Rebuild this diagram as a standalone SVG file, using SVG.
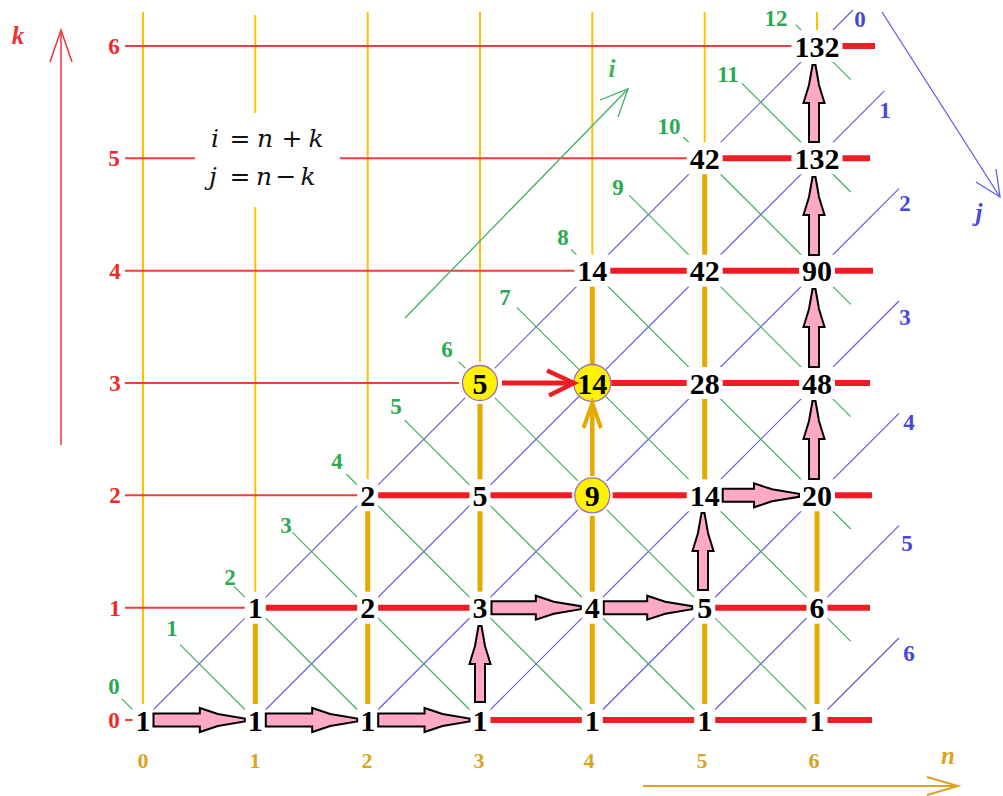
<svg xmlns="http://www.w3.org/2000/svg" width="1003" height="796" viewBox="0 0 1003 796">
<style>
.tc{stroke:#FFC000;stroke-width:2;fill:none}
.tr{stroke:#F03C3C;stroke-width:2;fill:none}
.bl{stroke:#5F5FE0;stroke-width:1.2;fill:none}
.gr{stroke:#40B060;stroke-width:1.2;fill:none}
.kr{stroke:#EE1C24;stroke-width:6;fill:none}
.kg{stroke:#E3AA00;stroke-width:5;fill:none}
.pa{fill:#FFA8C8;stroke:#000;stroke-width:2;stroke-linejoin:miter}
.nb{fill:#fff}
.nt{font-family:"Liberation Serif","Times New Roman",serif;font-weight:bold;font-size:30px;fill:#000;text-anchor:middle}
.lab{font-family:"Liberation Serif","Times New Roman",serif;font-weight:bold;font-size:23px;text-anchor:middle}
.rl{fill:#F02828}
.cl{fill:#D9A520;font-size:22px}
.gl{fill:#2DAA50}
.jl{fill:#4848D8}
.ax{font-family:"Liberation Serif","Times New Roman",serif;font-weight:bold;font-style:italic;font-size:25px;text-anchor:middle}
.fm{font-family:"DejaVu Serif","Liberation Serif",serif;font-size:25px;fill:#111;text-anchor:middle}
.yc{fill:#FFF200;stroke:#A070B0;stroke-width:1.3}
</style>
<rect width="1003" height="796" fill="#fff"/>
<g id="grid">
<line class="tc" x1="143" y1="12" x2="143" y2="720"/>
<line class="tc" x1="255.3" y1="15" x2="255.3" y2="607.7"/>
<line class="tc" x1="367.7" y1="12" x2="367.7" y2="495.3"/>
<line class="tc" x1="480" y1="12" x2="480" y2="383"/>
<line class="tc" x1="592.3" y1="12" x2="592.3" y2="270.7"/>
<line class="tc" x1="704.7" y1="12" x2="704.7" y2="158.3"/>
<line class="tc" x1="817" y1="12" x2="817" y2="46"/>
<line class="tr" x1="125" y1="720" x2="143" y2="720"/>
<line class="tr" x1="125" y1="607.7" x2="255.3" y2="607.7"/>
<line class="tr" x1="125" y1="495.3" x2="367.7" y2="495.3"/>
<line class="tr" x1="125" y1="383" x2="480" y2="383"/>
<line class="tr" x1="125" y1="270.7" x2="592.3" y2="270.7"/>
<line class="tr" x1="125" y1="158.3" x2="704.7" y2="158.3"/>
<line class="tr" x1="125" y1="46" x2="817" y2="46"/>
<line class="bl" x1="143" y1="720" x2="853" y2="10"/>
<line class="bl" x1="255.3" y1="720" x2="884.4" y2="90.9"/>
<line class="bl" x1="367.7" y1="720" x2="899" y2="188.7"/>
<line class="bl" x1="480" y1="720" x2="899" y2="301"/>
<line class="bl" x1="592.3" y1="720" x2="899" y2="413.3"/>
<line class="bl" x1="704.7" y1="720" x2="899" y2="525.7"/>
<line class="bl" x1="817" y1="720" x2="899" y2="638"/>
<line class="gr" x1="121.7" y1="698.7" x2="143" y2="720"/>
<line class="gr" x1="180.1" y1="644.7" x2="255.3" y2="720"/>
<line class="gr" x1="234" y1="586.3" x2="367.7" y2="720"/>
<line class="gr" x1="292.4" y1="532.4" x2="480" y2="720"/>
<line class="gr" x1="346.3" y1="474" x2="592.3" y2="720"/>
<line class="gr" x1="404.7" y1="420.1" x2="704.7" y2="720"/>
<line class="gr" x1="458.7" y1="361.7" x2="817" y2="720"/>
<line class="gr" x1="517" y1="307.7" x2="850.7" y2="641.4"/>
<line class="gr" x1="571" y1="249.3" x2="850.7" y2="529"/>
<line class="gr" x1="629.4" y1="195.4" x2="850.7" y2="416.7"/>
<line class="gr" x1="683.3" y1="137" x2="850.7" y2="304.4"/>
<line class="gr" x1="741.7" y1="83.1" x2="850.7" y2="192"/>
<line class="gr" x1="795.7" y1="24.7" x2="850.7" y2="79.7"/>
</g>
<g id="labels">
<text class="lab rl" x="114" y="728">0</text>
<text class="lab rl" x="115" y="615.7">1</text>
<text class="lab rl" x="115" y="503.3">2</text>
<text class="lab rl" x="115" y="391">3</text>
<text class="lab rl" x="115" y="278.7">4</text>
<text class="lab rl" x="114" y="166.3">5</text>
<text class="lab rl" x="114" y="54">6</text>
<text class="lab cl" x="143" y="768">0</text>
<text class="lab cl" x="255" y="768">1</text>
<text class="lab cl" x="367" y="768">2</text>
<text class="lab cl" x="479" y="768">3</text>
<text class="lab cl" x="589" y="768">4</text>
<text class="lab cl" x="702" y="768">5</text>
<text class="lab cl" x="814" y="768">6</text>
<text class="lab gl" x="114" y="694">0</text>
<text class="lab gl" x="172" y="636">1</text>
<text class="lab gl" x="230" y="585">2</text>
<text class="lab gl" x="286" y="533">3</text>
<text class="lab gl" x="337" y="469">4</text>
<text class="lab gl" x="396" y="414">5</text>
<text class="lab gl" x="447" y="357">6</text>
<text class="lab gl" x="505" y="305">7</text>
<text class="lab gl" x="563" y="245">8</text>
<text class="lab gl" x="618" y="195">9</text>
<text class="lab gl" x="669" y="134">10</text>
<text class="lab gl" x="728" y="82">11</text>
<text class="lab gl" x="776" y="26">12</text>
<text class="lab jl" x="860" y="27">0</text>
<text class="lab jl" x="885" y="118">1</text>
<text class="lab jl" x="905" y="211">2</text>
<text class="lab jl" x="905" y="325">3</text>
<text class="lab jl" x="909" y="430">4</text>
<text class="lab jl" x="907" y="551">5</text>
<text class="lab jl" x="909" y="661">6</text>
</g>
<g id="formula">
<rect x="195" y="113" width="145" height="94" fill="#fff"/>
<text class="fm"><tspan x="215" y="147" font-style="italic">i</tspan><tspan x="240" y="147">=</tspan><tspan x="265" y="147" font-style="italic">n</tspan><tspan x="292" y="147">+</tspan><tspan x="316" y="147" font-style="italic">k</tspan></text>
<text class="fm"><tspan x="213" y="185" font-style="italic">j</tspan><tspan x="240" y="185">=</tspan><tspan x="264" y="185" font-style="italic">n</tspan><tspan x="286" y="185">−</tspan><tspan x="308" y="185" font-style="italic">k</tspan></text>
</g>
<g id="axes">
<g id="axis-k" stroke="#EE3333" stroke-width="1.5" fill="none">
<line x1="61" y1="445" x2="61" y2="31"/>
<polyline points="50,62 61,30 72,62"/>
</g>
<text class="ax" x="18" y="44" fill="#EE3333">k</text>
<g id="axis-n" stroke="#D9A520" stroke-width="2" fill="none">
<line x1="643" y1="786" x2="957" y2="786"/>
<polyline points="927,777 958,786 927,795"/>
</g>
<text class="ax" x="948" y="764" fill="#D9A520">n</text>
<g id="axis-i" stroke="#40B060" stroke-width="1.3" fill="none">
<line x1="405" y1="318" x2="628" y2="89"/>
<polyline points="600,100 628,89 618,117"/>
</g>
<text class="ax" x="612" y="77" fill="#40B060">i</text>
<g id="axis-j" stroke="#5F5FE0" stroke-width="1.3" fill="none">
<line x1="882" y1="12" x2="1000" y2="197"/>
<polyline points="976,182 1000,197 996,169"/>
</g>
<text class="ax" x="979" y="221" fill="#4848D8">j</text>
</g>
<g id="connectors">
<line class="kr" x1="480" y1="720" x2="872" y2="720"/>
<line class="kr" x1="255.3" y1="607.7" x2="480" y2="607.7"/>
<line class="kr" x1="704.7" y1="607.7" x2="870" y2="607.7"/>
<line class="kr" x1="367.7" y1="495.3" x2="704.7" y2="495.3"/>
<line class="kr" x1="817" y1="495.3" x2="872" y2="495.3"/>
<line class="kr" x1="592.3" y1="383" x2="870" y2="383"/>
<line class="kr" x1="592.3" y1="270.7" x2="873" y2="270.7"/>
<line class="kr" x1="704.7" y1="158.3" x2="870" y2="158.3"/>
<line class="kr" x1="817" y1="46" x2="875" y2="46"/>
<line class="kg" x1="255.3" y1="720" x2="255.3" y2="607.7"/>
<line class="kg" x1="367.7" y1="720" x2="367.7" y2="495.3"/>
<line class="kg" x1="480" y1="607.7" x2="480" y2="383"/>
<line class="kg" x1="592.3" y1="720" x2="592.3" y2="495.3"/>
<line class="kg" x1="592.3" y1="383" x2="592.3" y2="270.7"/>
<line class="kg" x1="704.7" y1="720" x2="704.7" y2="607.7"/>
<line class="kg" x1="704.7" y1="495.3" x2="704.7" y2="158.3"/>
<line class="kg" x1="817" y1="720" x2="817" y2="495.3"/>
</g>
<g id="nodes">
<g id="n0k0"><rect class="nb" x="132.5" y="704" width="21" height="32"/><text class="nt" x="143" y="730.5">1</text></g>
<g id="n1k0"><rect class="nb" x="244.8" y="704" width="21" height="32"/><text class="nt" x="255.3" y="730.5">1</text></g>
<g id="n2k0"><rect class="nb" x="357.2" y="704" width="21" height="32"/><text class="nt" x="367.7" y="730.5">1</text></g>
<g id="n3k0"><rect class="nb" x="469.5" y="704" width="21" height="32"/><text class="nt" x="480" y="730.5">1</text></g>
<g id="n4k0"><rect class="nb" x="581.8" y="704" width="21" height="32"/><text class="nt" x="592.3" y="730.5">1</text></g>
<g id="n5k0"><rect class="nb" x="694.2" y="704" width="21" height="32"/><text class="nt" x="704.7" y="730.5">1</text></g>
<g id="n6k0"><rect class="nb" x="806.5" y="704" width="21" height="32"/><text class="nt" x="817" y="730.5">1</text></g>
<g id="n1k1"><rect class="nb" x="244.8" y="591.7" width="21" height="32"/><text class="nt" x="255.3" y="618.2">1</text></g>
<g id="n2k1"><rect class="nb" x="357.2" y="591.7" width="21" height="32"/><text class="nt" x="367.7" y="618.2">2</text></g>
<g id="n3k1"><rect class="nb" x="469.5" y="591.7" width="21" height="32"/><text class="nt" x="480" y="618.2">3</text></g>
<g id="n4k1"><rect class="nb" x="581.8" y="591.7" width="21" height="32"/><text class="nt" x="592.3" y="618.2">4</text></g>
<g id="n5k1"><rect class="nb" x="694.2" y="591.7" width="21" height="32"/><text class="nt" x="704.7" y="618.2">5</text></g>
<g id="n6k1"><rect class="nb" x="806.5" y="591.7" width="21" height="32"/><text class="nt" x="817" y="618.2">6</text></g>
<g id="n2k2"><rect class="nb" x="357.2" y="479.3" width="21" height="32"/><text class="nt" x="367.7" y="505.8">2</text></g>
<g id="n3k2"><rect class="nb" x="469.5" y="479.3" width="21" height="32"/><text class="nt" x="480" y="505.8">5</text></g>
<g id="n4k2"><circle class="nb" cx="592.3" cy="495.3" r="20.5"/><circle class="yc" cx="592.3" cy="495.3" r="17.5"/><text class="nt" x="592.3" y="505.8">9</text></g>
<g id="n5k2"><rect class="nb" x="686.7" y="479.3" width="36" height="32"/><text class="nt" x="704.7" y="505.8">14</text></g>
<g id="n6k2"><rect class="nb" x="799" y="479.3" width="36" height="32"/><text class="nt" x="817" y="505.8">20</text></g>
<g id="n3k3"><circle class="nb" cx="480" cy="383" r="21"/><circle class="yc" cx="480" cy="383" r="17.5"/><text class="nt" x="480" y="393.5">5</text></g>
<g id="n4k3"><circle class="nb" cx="592.3" cy="383" r="19"/><circle class="yc" cx="592.3" cy="383" r="18.5"/><text class="nt" x="592.3" y="393.5">14</text></g>
<g id="n5k3"><rect class="nb" x="686.7" y="367" width="36" height="32"/><text class="nt" x="704.7" y="393.5">28</text></g>
<g id="n6k3"><rect class="nb" x="799" y="367" width="36" height="32"/><text class="nt" x="817" y="393.5">48</text></g>
<g id="n4k4"><rect class="nb" x="574.3" y="254.7" width="36" height="32"/><text class="nt" x="592.3" y="281.2">14</text></g>
<g id="n5k4"><rect class="nb" x="686.7" y="254.7" width="36" height="32"/><text class="nt" x="704.7" y="281.2">42</text></g>
<g id="n6k4"><rect class="nb" x="799" y="254.7" width="36" height="32"/><text class="nt" x="817" y="281.2">90</text></g>
<g id="n5k5"><rect class="nb" x="686.7" y="142.3" width="36" height="32"/><text class="nt" x="704.7" y="168.8">42</text></g>
<g id="n6k5"><rect class="nb" x="791.5" y="142.3" width="51" height="32"/><text class="nt" x="817" y="168.8">132</text></g>
<g id="n6k6"><rect class="nb" x="791.5" y="30" width="51" height="32"/><text class="nt" x="817" y="56.5">132</text></g>
</g>
<g id="arrows">
<polygon class="pa" points="153.5,713.5 199.8,713.5 199.8,708 217.8,714 244.8,718.5 244.8,721.5 217.8,726 199.8,732 199.8,726.5 153.5,726.5"/>
<polygon class="pa" points="265.8,713.5 312.2,713.5 312.2,708 330.2,714 357.2,718.5 357.2,721.5 330.2,726 312.2,732 312.2,726.5 265.8,726.5"/>
<polygon class="pa" points="378.2,713.5 424.5,713.5 424.5,708 442.5,714 469.5,718.5 469.5,721.5 442.5,726 424.5,732 424.5,726.5 378.2,726.5"/>
<polygon class="pa" points="491.5,601.2 535.8,601.2 535.8,595.7 553.8,601.7 580.8,606.2 580.8,609.2 553.8,613.7 535.8,619.7 535.8,614.2 491.5,614.2"/>
<polygon class="pa" points="603.8,601.2 647.2,601.2 647.2,595.7 665.2,601.7 692.2,606.2 692.2,609.2 665.2,613.7 647.2,619.7 647.2,614.2 603.8,614.2"/>
<polygon class="pa" points="722.7,488.8 754,488.8 754,483.3 772,489.3 799,493.8 799,496.8 772,501.3 754,507.3 754,501.8 722.7,501.8"/>
<polygon class="pa" points="475,702 475,664 469.5,664 475,646 478.5,626 481.5,626 485,646 490.5,664 485,664 485,702"/>
<polygon class="pa" points="698,590 698,551 692.5,551 698,533 701.5,513 704.5,513 708,533 713.5,551 708,551 708,590"/>
<polygon class="pa" points="809,479 809,439 803.5,439 809,421 812.5,401 815.5,401 819,421 824.5,439 819,439 819,479"/>
<polygon class="pa" points="809,367 809,327 803.5,327 809,309 812.5,289 815.5,289 819,309 824.5,327 819,327 819,367"/>
<polygon class="pa" points="809,255 809,215 803.5,215 809,197 812.5,177 815.5,177 819,197 824.5,215 819,215 819,255"/>
<polygon class="pa" points="809,142 809,103 803.5,103 809,85 812.5,65 815.5,65 819,85 824.5,103 819,103 819,142"/>
<line x1="502" y1="383" x2="572" y2="383" stroke="#EE1C24" stroke-width="5"/>
<polyline points="547,370.5 574,383 549,395.5" fill="none" stroke="#EE1C24" stroke-width="4.5"/>
<line x1="592.3" y1="476" x2="592.3" y2="406" stroke="#E3AA00" stroke-width="4.5"/>
<polyline points="583.5,428 592.3,403 601,428" fill="none" stroke="#E3AA00" stroke-width="4"/>
</g>
</svg>
